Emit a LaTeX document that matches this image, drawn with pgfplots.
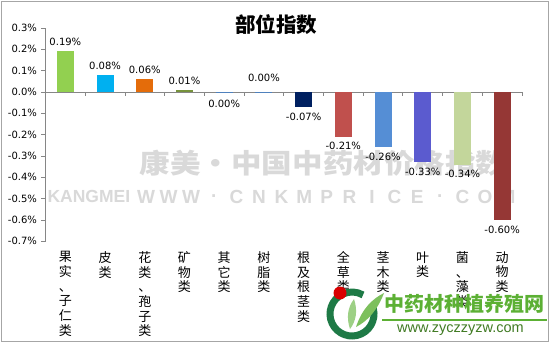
\documentclass[border=0pt]{standalone}
\usepackage{pgfplots}
\pgfplotsset{compat=1.18}
\usepackage{fontspec}
\setmainfont{DejaVu Sans}
\newfontfamily\cjk{Noto Sans CJK SC}
\newfontfamily\lib{Liberation Sans}
\definecolor{axisgray}{HTML}{868686}
\definecolor{bordergray}{HTML}{A6A6A6}
\definecolor{wmgray}{HTML}{D9D9D9}
\definecolor{cA}{HTML}{92D050}
\definecolor{cB}{HTML}{00B0F0}
\definecolor{cC}{HTML}{E46C0A}
\definecolor{cD}{HTML}{77933C}
\definecolor{cE}{HTML}{4F81BD}
\definecolor{cF}{HTML}{4F81BD}
\definecolor{cG}{HTML}{002060}
\definecolor{cH}{HTML}{C0504D}
\definecolor{cI}{HTML}{558ED5}
\definecolor{cJ}{HTML}{5B5BCF}
\definecolor{cK}{HTML}{C3D69B}
\definecolor{cL}{HTML}{953735}
\definecolor{wmgreen}{HTML}{5CB034}
\definecolor{wmdark}{HTML}{1E7A46}
\begin{document}
\begin{tikzpicture}[x=1pt,y=1pt]
\useasboundingbox (0,0) rectangle (551,343);
\fill[white] (0,0) rectangle (551,343);
\draw[bordergray, line width=0.8pt] (1,2) rectangle (548,342);
% faint watermark behind the plot
\node[font=\cjk\bfseries\fontsize{27}{27}\selectfont, text=wmgray, xscale=1.13] at (323,180) {康美·中国中药材价格指数};
\node[font=\lib\bfseries\fontsize{17.5}{18}\selectfont, text=wmgray, anchor=west] at (44,146.5) {KANGMEI};
\foreach \c [count=\i] in {W,W,W,.,C,N,K,M,P,R,I,C,E,.,C,O,M}
  \node[font=\lib\bfseries\fontsize{19}{19}\selectfont, text=wmgray] at (146+22.6*\i-22.6,146.5) {\c};
\begin{axis}[
  at={(45.5pt,101.7pt)}, anchor=south west,
  scale only axis, width=476.5pt, height=213.3pt,
  xmin=-0.5, xmax=11.5, ymin=-0.7, ymax=0.3,
  axis x line=middle, axis y line=left,
  axis line style={-, draw=axisgray, line width=0.8pt},
  xtick={0.5,1.5,2.5,3.5,4.5,5.5,6.5,7.5,8.5,9.5,10.5,11.5},
  xticklabels={},
  ytick={-0.7,-0.6,-0.5,-0.4,-0.3,-0.2,-0.1,0,0.1,0.2,0.3},
  yticklabel={\pgfmathprintnumber[fixed,fixed zerofill,precision=1]{\tick}\%},
  /pgf/number format/assume math mode=true,
  yticklabel style={font=\fontsize{10}{12}\selectfont, text=black, xshift=-1pt},
  tick align=outside, major tick length=4pt,
  tick style={draw=axisgray, line width=0.8pt},
  ybar, bar width=17pt, bar shift=0pt,
  every node near coord/.append style={font=\fontsize{10}{12}\selectfont, text=black, inner sep=5.5pt},
  clip=false,
]
\addplot[fill=cA, draw=none, nodes near coords={0.19\%}] coordinates {(0,0.19)};
\addplot[fill=cB, draw=none, nodes near coords={0.08\%}] coordinates {(1,0.08)};
\addplot[fill=cC, draw=none, nodes near coords={0.06\%}] coordinates {(2,0.06)};
\addplot[fill=cD, draw=none, nodes near coords={0.01\%}] coordinates {(3,0.01)};
\addplot[fill=cE, draw=none, nodes near coords={0.00\%}, every node near coord/.append style={yshift=-2pt}] coordinates {(4,-0.0001)};
\addplot[fill=cF, draw=none, nodes near coords={0.00\%}, every node near coord/.append style={yshift=5pt}] coordinates {(5,0.0001)};
\addplot[fill=cG, draw=none, nodes near coords={-0.07\%}] coordinates {(6,-0.07)};
\addplot[fill=cH, draw=none, nodes near coords={-0.21\%}] coordinates {(7,-0.21)};
\addplot[fill=cI, draw=none, nodes near coords={-0.26\%}] coordinates {(8,-0.26)};
\addplot[fill=cJ, draw=none, nodes near coords={-0.33\%}] coordinates {(9,-0.33)};
\addplot[fill=cK, draw=none, nodes near coords={-0.34\%}] coordinates {(10,-0.34)};
\addplot[fill=cL, draw=none, nodes near coords={-0.60\%}] coordinates {(11,-0.60)};
\tikzset{catlab/.style={anchor=north, align=center, inner sep=0pt, yshift=-10pt, font=\cjk\fontsize{13}{14.7}\selectfont}}
\node[catlab] at (axis cs:0,-0.7) {果\\实\\、\\子\\仁\\类};
\node[catlab] at (axis cs:1,-0.7) {皮\\类};
\node[catlab] at (axis cs:2,-0.7) {花\\类\\、\\孢\\子\\类};
\node[catlab] at (axis cs:3,-0.7) {矿\\物\\类};
\node[catlab] at (axis cs:4,-0.7) {其\\它\\类};
\node[catlab] at (axis cs:5,-0.7) {树\\脂\\类};
\node[catlab] at (axis cs:6,-0.7) {根\\及\\根\\茎\\类};
\node[catlab] at (axis cs:7,-0.7) {全\\草\\类};
\node[catlab] at (axis cs:8,-0.7) {茎\\木\\类};
\node[catlab] at (axis cs:9,-0.7) {叶\\类};
\node[catlab] at (axis cs:10,-0.7) {菌\\、\\藻\\类};
\node[catlab] at (axis cs:11,-0.7) {动\\物\\类};
\end{axis}
% title
\node[font=\cjk\bfseries\fontsize{20.5}{21}\selectfont] at (276,318) {部位指数};
% green watermark (bottom right)
\draw[wmdark, line width=7pt] (352,29) ++(25:22) arc[start angle=25, end angle=-300, radius=22];
\fill[red!85!black] (340,50) circle (6.5);
\fill[wmgreen!80] (356,16) .. controls (362,34) and (372,44) .. (384,50) .. controls (378,34) and (368,22) .. cycle;
\fill[wmgreen!60] (350,14) .. controls (346,26) and (348,36) .. (354,44) .. controls (358,32) and (356,22) .. cycle;
\node[font=\cjk\bfseries\fontsize{20}{20}\selectfont, text=wmgreen, anchor=west, inner sep=0pt] at (384,39.5) {中药材种植养殖网};
\draw[wmgreen, line width=1.2pt] (382,23) -- (547,23);
\node[font=\lib\fontsize{14.5}{15}\selectfont, text=wmgreen!70!black, anchor=west, inner sep=0pt] at (397,12.5) {www.zyczzyzw.com};
\end{tikzpicture}
\end{document}
